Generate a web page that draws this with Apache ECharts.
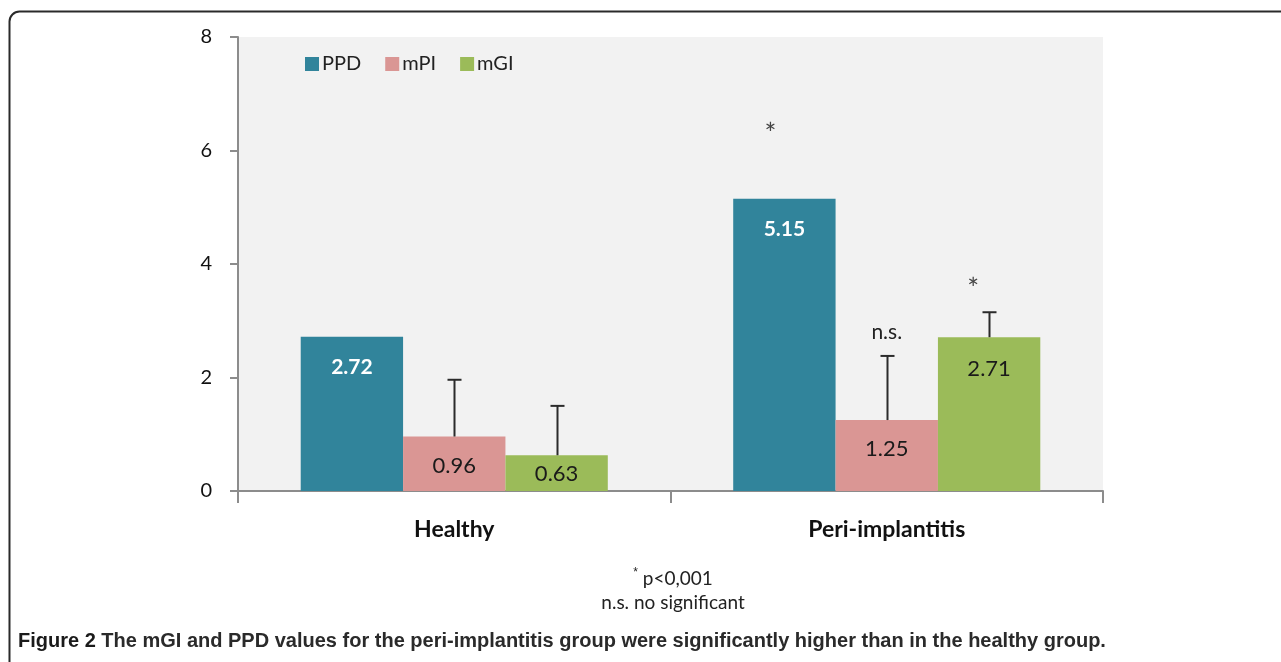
<!DOCTYPE html>
<html>
<head>
<meta charset="utf-8">
<script src="https://cdn.jsdelivr.net/npm/echarts@6/dist/echarts.min.js"></script>
<style>
html,body{margin:0;padding:0;background:#fff;}
#chart{width:1281px;height:662px;}
</style>
</head>
<body>
<div id="chart"></div>
<script>
const categories = ['Healthy', 'Peri-implantitis'];
const seriesNames = ['PPD', 'mPI', 'mGI'];
const ppdValues = [2.72, 5.15];
const mpiValues = [0.96, 1.25];
const mgiValues = [0.63, 2.71];
const mpiErrors = [1.00, 1.13];
const mgiErrors = [0.87, 0.44];
const yTickValues = [0, 2, 4, 6, 8];
const annotationCategory = [1, 1, 1];
const annotationSeries = [0, 1, 2];
const annotationValue = [6.38, 2.80, 3.65];
const annotationText = ['*', 'n.s.', '*'];
const footnoteLines = ['{s|*} p<0,001', 'n.s. no significant'];
const captionBold = 'Figure 2';
const captionText = ' The mGI and PPD values for the peri-implantitis group were significantly higher than in the healthy group.';

const colors = ['#31849b', '#da9694', '#9bbb59'];
const GAP = 0.29;
const FONT = 'Lato, "Open Sans", sans-serif';

const chart = echarts.init(document.getElementById('chart'), null, {renderer: 'canvas'});

function barLabel(dist, white) {
  return {
    show: true, position: 'insideTop', distance: dist,
    formatter: p => p.value.toFixed(2),
    color: white ? '#ffffff' : '#1a1a1a',
    fontWeight: white ? 'bold' : 'normal',
    fontSize: white ? 21 : 22, fontFamily: FONT
  };
}

function errorRender(offsetIndex) {
  return function (params, api) {
    const x = api.value(0), v = api.value(1), e = api.value(2);
    const catW = api.size([1, 0])[0];
    const bw = catW * (1 - GAP) / 3;
    const dx = (offsetIndex - 1) * bw;
    const b = api.coord([x, v]);
    const t = api.coord([x, v + e]);
    const cx = Math.round(b[0] + dx) + 0.5;
    const style = {stroke: '#2b2b2b', lineWidth: 2};
    return {
      type: 'group',
      children: [
        {type: 'line', shape: {x1: cx, y1: b[1], x2: cx, y2: t[1]}, style: style},
        {type: 'line', shape: {x1: cx - 7, y1: t[1], x2: cx + 7, y2: t[1]}, style: style}
      ]
    };
  };
}

const annDx = [-14, 0, -16];
const annDy = [6, 0, 6];
const annData = annotationCategory.map((c, i) => [c, annotationValue[i], annotationSeries[i], i]);

const option = {
  animation: false,
  backgroundColor: '#ffffff',
  graphic: [
    {type: 'rect', shape: {x: 9.5, y: 11.5, width: 1320, height: 720, r: 10},
     style: {fill: 'none', stroke: '#2a2a2a', lineWidth: 2}, z: 100},
    {type: 'text', x: 673, y: 567,
     style: {text: footnoteLines.join('\n'), fill: '#222', font: '19px ' + FONT,
       textAlign: 'center', lineHeight: 24,
       rich: {s: {fontSize: 12, verticalAlign: 'top', fill: '#222', padding: [0, 0, 8, 0]}}}},
    {type: 'text', left: 18, top: 631,
     style: {text: '{b|' + captionBold + '}{n|' + captionText + '}',
       rich: {b: {fontSize: 20, fontWeight: 'bold', fontFamily: 'Liberation Sans, Arial, sans-serif', fill: '#1a1a1a'},
              n: {fontSize: 20, fontWeight: 'bold', fontFamily: 'Liberation Sans, Arial, sans-serif', fill: '#2a2a2a'}}}}
  ],
  legend: {
    data: seriesNames,
    left: 300, top: 49,
    icon: 'rect', itemWidth: 14, itemHeight: 14, itemGap: 24,
    textStyle: {fontSize: 20, fontFamily: FONT, color: '#222', padding: [0, 0, 0, -2]}
  },
  grid: {
    left: 238, right: 178, top: 37, bottom: 171,
    show: true, backgroundColor: '#f2f2f2', borderWidth: 0
  },
  xAxis: {
    type: 'category', data: categories,
    axisLine: {lineStyle: {color: '#8c8c8c', width: 2}},
    axisTick: {show: true, length: 12, lineStyle: {color: '#8c8c8c', width: 2}},
    axisLabel: {margin: 27, fontSize: 23, fontWeight: 'bold', fontFamily: FONT, color: '#111'}
  },
  yAxis: {
    type: 'value', min: yTickValues[0], max: yTickValues[yTickValues.length - 1], interval: 2,
    splitLine: {show: false},
    axisLine: {show: true, lineStyle: {color: '#8c8c8c', width: 2}},
    axisTick: {show: true, length: 8, lineStyle: {color: '#8c8c8c', width: 2}},
    axisLabel: {margin: 26, fontSize: 20, fontFamily: FONT, color: '#111'}
  },
  series: [
    {name: 'PPD', type: 'bar', barGap: '0%', barCategoryGap: (GAP * 100) + '%',
     itemStyle: {color: colors[0]},
     data: ppdValues.map(v => ({value: v, label: barLabel(20, true)}))},
    {name: 'mPI', type: 'bar', itemStyle: {color: colors[1]},
     data: mpiValues.map(v => ({value: v, label: barLabel(18, false)}))},
    {name: 'mGI', type: 'bar', itemStyle: {color: colors[2]},
     data: mgiValues.map((v, i) => ({value: v, label: barLabel(i === 0 ? 8 : 21, false)}))},
    {type: 'custom', name: 'mPI err', renderItem: errorRender(1), z: 5,
     encode: {x: 0, y: 1},
     data: mpiValues.map((v, i) => [i, v, mpiErrors[i]])},
    {type: 'custom', name: 'mGI err', renderItem: errorRender(2), z: 5,
     encode: {x: 0, y: 1},
     data: mgiValues.map((v, i) => [i, v, mgiErrors[i]])},
    {type: 'custom', name: 'annotations', z: 6, encode: {x: 0, y: 1},
     renderItem: function (params, api) {
       const c = api.value(0), v = api.value(1), s = api.value(2), k = api.value(3);
       const catW = api.size([1, 0])[0];
       const bw = catW * (1 - GAP) / 3;
       const p = api.coord([c, v]);
       const txt = annotationText[k];
       return {type: 'text', x: p[0] + (s - 1) * bw + annDx[k], y: p[1] + annDy[k],
         style: {text: txt, textAlign: 'center', textVerticalAlign: 'middle',
           font: (txt === '*' ? '28px ' : '21px ') + FONT, fill: txt === '*' ? '#444' : '#222'}};
     },
     data: annData}
  ]
};
chart.setOption(option);
</script>
</body>
</html>
